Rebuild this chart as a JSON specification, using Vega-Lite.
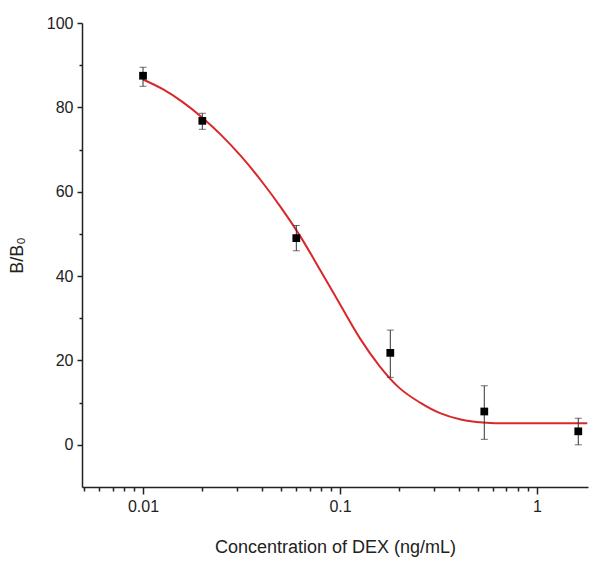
{
  "$schema": "https://vega.github.io/schema/vega-lite/v6.json",
  "autosize": {"type": "none"},
  "padding": {"left": 82, "top": 23, "right": 1, "bottom": 76},
  "width": 506,
  "height": 464,
  "background": "white",
  "config": {
    "view": {"stroke": null},
    "axis": {"domainColor": "#222", "tickColor": "#222", "labelColor": "#222", "titleColor": "#222", "labelFont": "Liberation Sans", "titleFont": "Liberation Sans", "labelFontSize": 16, "titleFontSize": 18, "titleFontWeight": "normal", "grid": false, "domainWidth": 1.5, "tickWidth": 1.5}
  },
  "datasets": {
    "points": [
      {"conc": 0.01, "bb0": 87.5, "lo": 85.0, "hi": 89.5},
      {"conc": 0.02, "bb0": 76.8, "lo": 74.8, "hi": 78.6},
      {"conc": 0.06, "bb0": 49.0, "lo": 46.0, "hi": 52.0},
      {"conc": 0.18, "bb0": 21.8, "lo": 16.0, "hi": 27.2},
      {"conc": 0.54, "bb0": 7.9, "lo": 1.3, "hi": 14.0},
      {"conc": 1.62, "bb0": 3.2, "lo": 0.0, "hi": 6.3}
    ],
    "curve": [
      {"conc": 0.01, "fit": 86.6},
      {"conc": 0.0126, "fit": 84.3},
      {"conc": 0.01585, "fit": 81.3},
      {"conc": 0.01995, "fit": 77.6},
      {"conc": 0.0251, "fit": 73.3},
      {"conc": 0.0316, "fit": 68.3},
      {"conc": 0.0398, "fit": 62.6},
      {"conc": 0.0501, "fit": 56.3},
      {"conc": 0.0631, "fit": 49.3},
      {"conc": 0.0794, "fit": 41.4},
      {"conc": 0.1, "fit": 33.3},
      {"conc": 0.126, "fit": 25.3},
      {"conc": 0.158, "fit": 18.8},
      {"conc": 0.2, "fit": 13.5},
      {"conc": 0.255, "fit": 10.0},
      {"conc": 0.322, "fit": 7.5},
      {"conc": 0.41, "fit": 6.0},
      {"conc": 0.53, "fit": 5.3},
      {"conc": 0.7, "fit": 5.1},
      {"conc": 1.0, "fit": 5.1},
      {"conc": 1.8, "fit": 5.1}
    ]
  },
  "layer": [
    {
      "data": {"name": "curve"},
      "mark": {"type": "line", "color": "#d8282c", "strokeWidth": 2, "interpolate": "monotone"},
      "encoding": {
        "x": {"field": "conc", "type": "quantitative", "scale": {"type": "log", "domain": [0.0049, 1.815], "nice": false},
          "axis": {"orient": "bottom", "title": "Concentration of DEX (ng/mL)", "values": [0.01, 0.1, 1], "format": "~g", "tickSize": 7, "labelPadding": 4, "titlePadding": 24}},
        "y": {"field": "fit", "type": "quantitative", "scale": {"domain": [-10, 100], "nice": false},
          "axis": {"orient": "left", "title": "B/B₀", "values": [0, 20, 40, 60, 80, 100], "tickSize": 5, "labelPadding": 4, "titlePadding": 20}}
      }
    },
    {
      "data": {"name": "curve"},
      "mark": {"type": "point", "opacity": 0},
      "encoding": {
        "x": {"field": "conc", "type": "quantitative", "scale": {"type": "log", "domain": [0.0049, 1.815], "nice": false},
          "axis": {"orient": "bottom", "title": null, "labels": false, "domain": false, "values": [0.005, 0.006, 0.007, 0.008, 0.009, 0.02, 0.03, 0.04, 0.05, 0.06, 0.07, 0.08, 0.09, 0.2, 0.3, 0.4, 0.5, 0.6, 0.7, 0.8, 0.9], "tickSize": 4}},
        "y": {"field": "fit", "type": "quantitative", "scale": {"domain": [-10, 100], "nice": false},
          "axis": {"orient": "left", "title": null, "labels": false, "domain": false, "values": [10, 30, 50, 70, 90], "tickSize": 3}}
      }
    },
    {
      "data": {"name": "points"},
      "mark": {"type": "rule", "color": "#333", "strokeWidth": 1},
      "encoding": {
        "x": {"field": "conc", "type": "quantitative", "axis": null},
        "y": {"field": "lo", "type": "quantitative", "axis": null},
        "y2": {"field": "hi"}
      }
    },
    {
      "data": {"name": "points"},
      "mark": {"type": "tick", "orient": "horizontal", "color": "#333", "size": 7, "thickness": 1},
      "encoding": {
        "x": {"field": "conc", "type": "quantitative", "axis": null},
        "y": {"field": "lo", "type": "quantitative", "axis": null}
      }
    },
    {
      "data": {"name": "points"},
      "mark": {"type": "tick", "orient": "horizontal", "color": "#333", "size": 7, "thickness": 1},
      "encoding": {
        "x": {"field": "conc", "type": "quantitative", "axis": null},
        "y": {"field": "hi", "type": "quantitative", "axis": null}
      }
    },
    {
      "data": {"name": "points"},
      "mark": {"type": "square", "color": "black", "filled": true, "opacity": 1, "size": 60},
      "encoding": {
        "x": {"field": "conc", "type": "quantitative", "axis": null},
        "y": {"field": "bb0", "type": "quantitative", "axis": null}
      }
    }
  ],
  "resolve": {"axis": {"x": "independent", "y": "independent"}}
}
